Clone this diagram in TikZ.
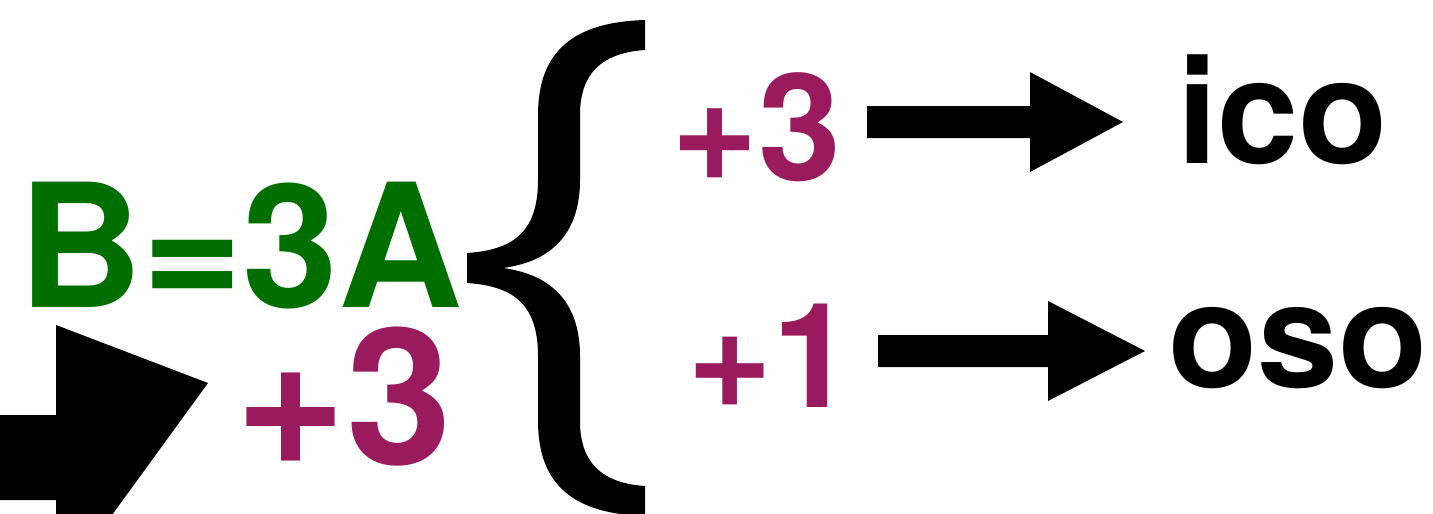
\documentclass[tikz,border=0pt]{standalone}
\usepackage{fontspec}
\setmainfont{TeX Gyre Heros}
\usetikzlibrary{calc}
\definecolor{eqgreen}{RGB}{0,111,0}
\definecolor{plum}{RGB}{154,26,94}
\tikzset{
  lbl/.style={inner sep=0pt, anchor=base west},
  fs/.style={font=\fontsize{#1}{#1}\selectfont\bfseries},
  solid/.style={fill=black, draw=none},
}
\begin{document}
\begin{tikzpicture}[x=1pt,y=-1pt]
\useasboundingbox (0,0) rectangle (1433,514);
\clip (0,0) rectangle (1433,514);

% equation and its increment
\node[lbl, fs=172, text=eqgreen, text depth=0pt] (eq) at (18,307) {B=3A};
\node[lbl, fs=190, text=plum, text height=128pt] (inc) at (235,464) {+3};

% branch labels
\node[lbl, fs=149, text=plum] (up) at (671,180) {+3};
\node[lbl, fs=146, text=plum] (down) at (687,407) {+1};
\node[lbl, fs=146] (ico) at (1177,163) {ico};
\node[lbl, fs=146] (oso) at (1168,387) {oso};

% large opening brace
\fill[solid] (645,20) .. controls (575,22) and (538,50) .. (538,115)
  -- (538,180) .. controls (538,235) and (510,250) .. (467,253)
  -- (467,283) .. controls (510,286) and (538,301) .. (538,356)
  -- (538,421) .. controls (538,486) and (575,514) .. (645,516)
  -- (645,486) .. controls (600,483) and (580,461) .. (580,421)
  -- (580,356) .. controls (580,306) and (555,275) .. (503,268)
  .. controls (555,261) and (580,230) .. (580,180)
  -- (580,115) .. controls (580,75) and (600,53) .. (645,50) -- cycle;

% block arrows: start, head base, tip
\coordinate (a1s) at (867,122);
\coordinate (a1h) at (1030,122);
\coordinate (a1t) at (1123,122);
\coordinate (a2s) at (878,351);
\coordinate (a2h) at (1048,351);
\coordinate (a2t) at (1145,351);
\foreach \s/\h/\t in {a1s/a1h/a1t, a2s/a2h/a2t}{
  \fill[solid] ($(\s)+(0,-16)$) -- ($(\h)+(0,-16)$) -- ($(\h)+(0,-50)$)
    -- (\t) -- ($(\h)+(0,50)$) -- ($(\h)+(0,16)$) -- ($(\s)+(0,16)$) -- cycle;
}

% incoming arrow at the lower left
\coordinate (b0) at (-10,457.5);
\coordinate (bh) at (56,457.5);
\coordinate (bt) at (208,383);
\fill[solid] ($(b0)+(0,-42.5)$) -- ($(bh)+(0,-42.5)$) -- (56,325) -- (bt)
  -- (56,592) -- ($(bh)+(0,42.5)$) -- ($(b0)+(0,42.5)$) -- cycle;
\end{tikzpicture}
\end{document}
